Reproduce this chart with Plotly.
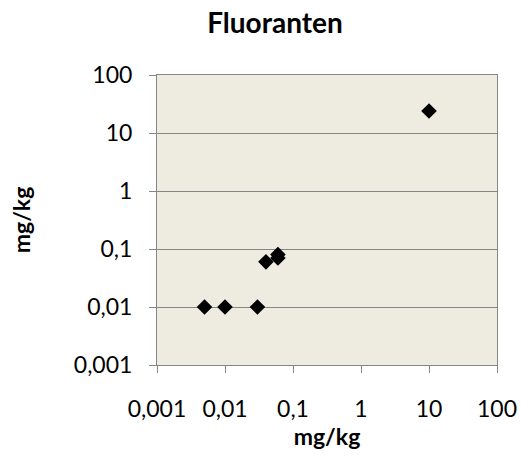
import plotly.graph_objects as go

# Fluoranten concentrations (mg/kg), paired measurements
x_vals = [0.005, 0.01, 0.03, 0.04, 0.06, 0.06, 10]
y_vals = [0.01, 0.01, 0.01, 0.06, 0.07, 0.08, 24]

tick_vals = [0.001, 0.01, 0.1, 1, 10, 100]
tick_text = ["0,001", "0,01", "0,1", "1", "10", "100"]

FONT = "Lato"
GRID = "#868686"

fig = go.Figure(
    go.Scatter(
        x=x_vals,
        y=y_vals,
        mode="markers",
        marker=dict(symbol="diamond", size=12, color="black", line=dict(width=0)),
        showlegend=False,
    )
)

axis_common = dict(
    type="log",
    tickvals=tick_vals,
    ticktext=tick_text,
    showline=True,
    linecolor=GRID,
    linewidth=1,
    mirror=True,
    ticks="outside",
    ticklen=7,
    tickcolor=GRID,
    tickfont=dict(family=FONT, size=23, color="black"),
    zeroline=False,
    automargin=False,
)

fig.update_xaxes(
    **axis_common,
    range=[-3, 2],
    showgrid=False,
    ticklabelstandoff=16,
    title=dict(text="<b>mg/kg</b>", font=dict(family=FONT, size=23, color="black"), standoff=8),
)
fig.update_yaxes(
    **axis_common,
    range=[-3, 2],
    showgrid=True,
    gridcolor=GRID,
    gridwidth=1,
    ticklabelstandoff=12,
    title=dict(text="<b>mg/kg</b>", font=dict(family=FONT, size=23, color="black"), standoff=36),
)

fig.update_layout(
    width=521,
    height=466,
    margin=dict(l=157, r=24, t=75, b=101, autoexpand=False),
    paper_bgcolor="white",
    plot_bgcolor="#EEECE1",
    title=dict(
        text="<b>Fluoranten</b>",
        font=dict(family=FONT, size=28, color="black"),
        x=275 / 521,
        xanchor="center",
        y=1 - 23 / 466,
        yanchor="middle",
    ),
)

fig.write_html("out.html")
